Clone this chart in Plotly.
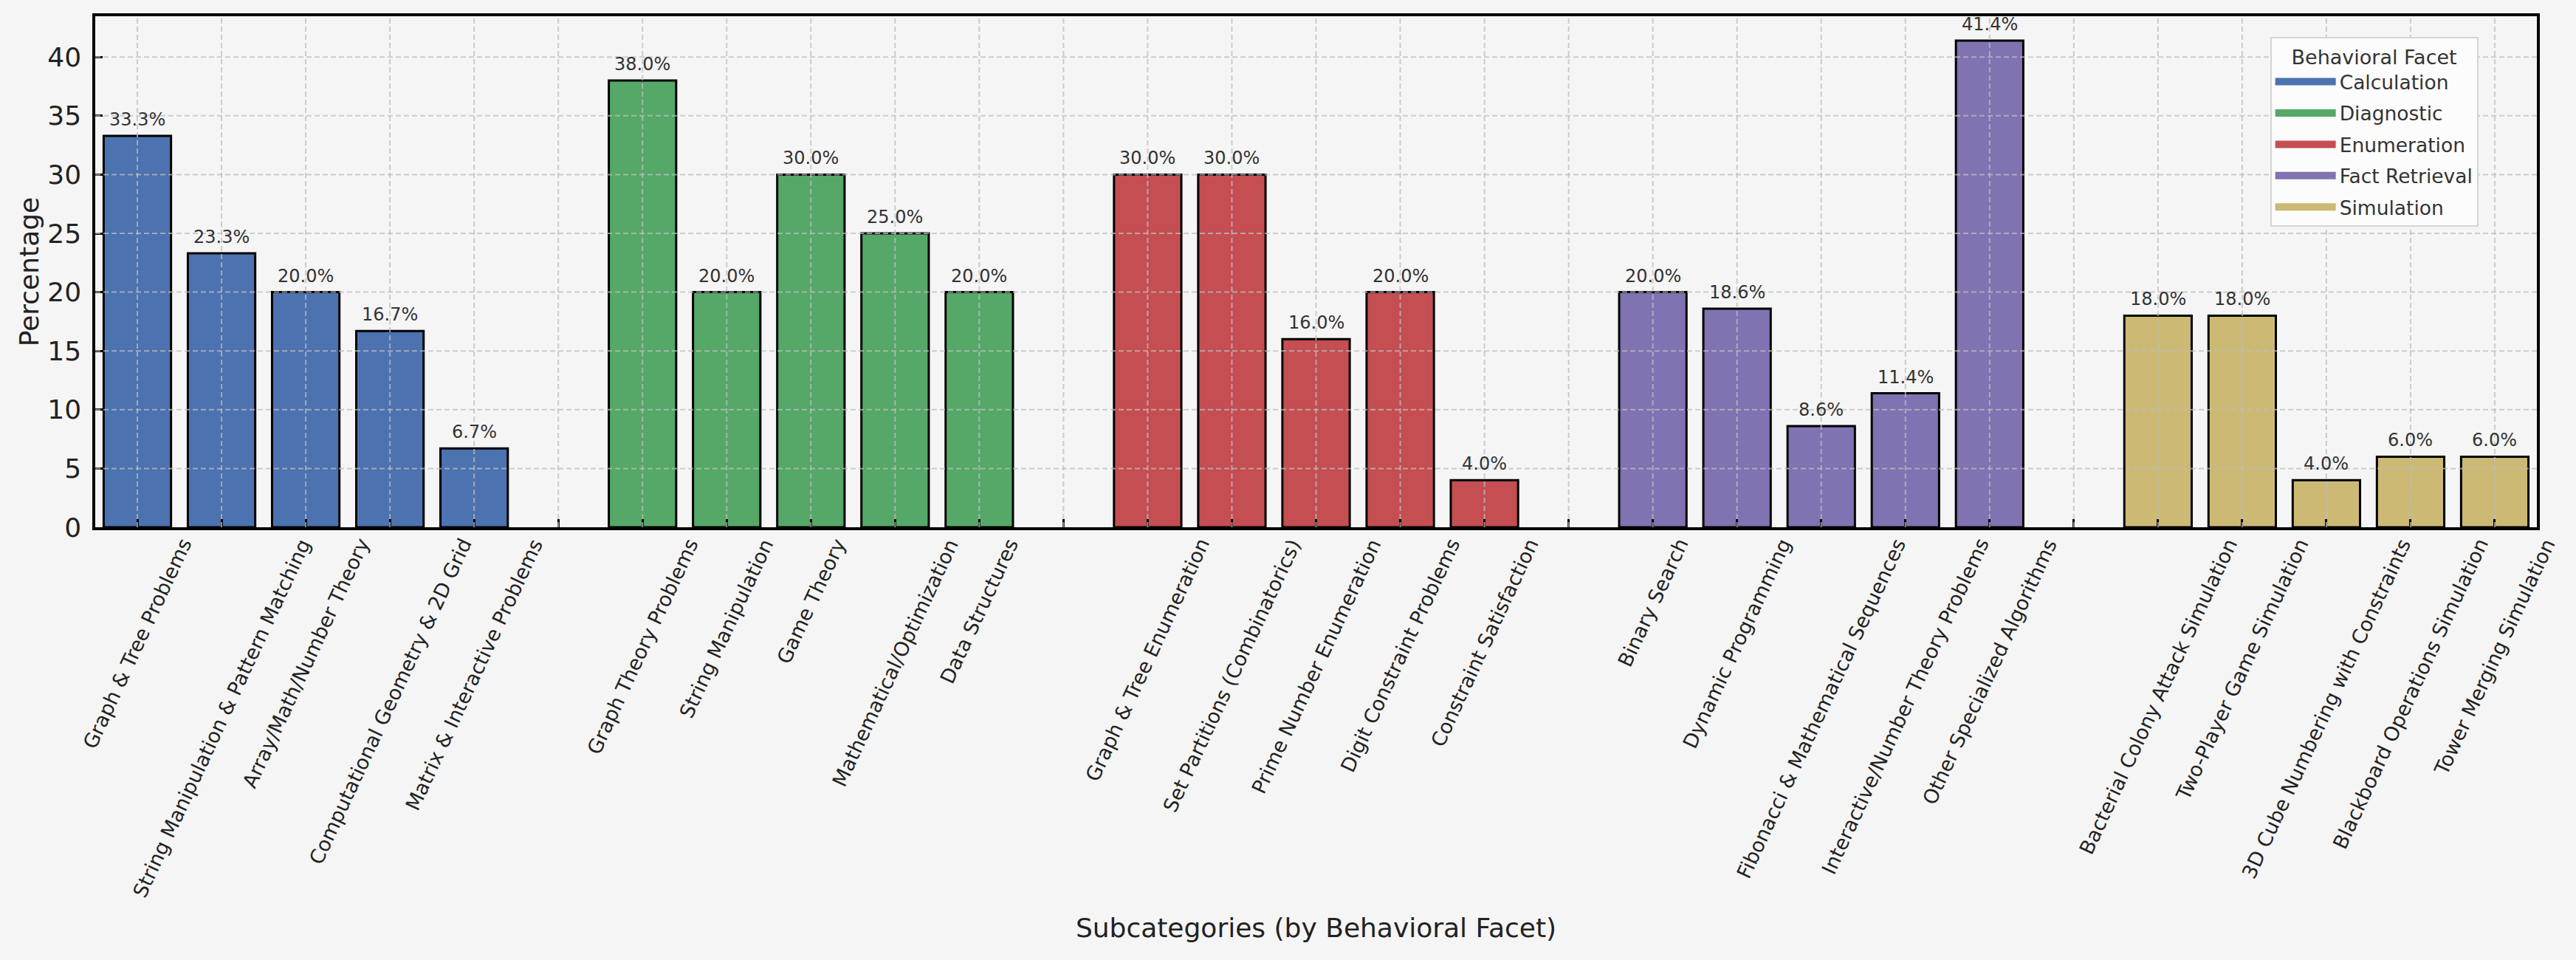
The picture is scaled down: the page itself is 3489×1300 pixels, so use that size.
import plotly.graph_objects as go

# ---- data ----
facets = ["Calculation", "Diagnostic", "Enumeration", "Fact Retrieval", "Simulation"]
colors = ["#4C72B0", "#55A868", "#C44E52", "#8172B2", "#CCB974"]

calc_labels = ["Graph & Tree Problems", "String Manipulation & Pattern Matching",
               "Array/Math/Number Theory", "Computational Geometry & 2D Grid",
               "Matrix & Interactive Problems"]
calc_values = [33.3, 23.3, 20.0, 16.7, 6.7]

diag_labels = ["Graph Theory Problems", "String Manipulation", "Game Theory",
               "Mathematical/Optimization", "Data Structures"]
diag_values = [38.0, 20.0, 30.0, 25.0, 20.0]

enum_labels = ["Graph & Tree Enumeration", "Set Partitions (Combinatorics)",
               "Prime Number Enumeration", "Digit Constraint Problems",
               "Constraint Satisfaction"]
enum_values = [30.0, 30.0, 16.0, 20.0, 4.0]

fact_labels = ["Binary Search", "Dynamic Programming",
               "Fibonacci & Mathematical Sequences",
               "Interactive/Number Theory Problems", "Other Specialized Algorithms"]
fact_values = [20.0, 18.6, 8.6, 11.4, 41.4]

sim_labels = ["Bacterial Colony Attack Simulation", "Two-Player Game Simulation",
              "3D Cube Numbering with Constraints", "Blackboard Operations Simulation",
              "Tower Merging Simulation"]
sim_values = [18.0, 18.0, 4.0, 6.0, 6.0]

y_ticks = [0, 5, 10, 15, 20, 25, 30, 35, 40]

groups = [calc_labels, diag_labels, enum_labels, fact_labels, sim_labels]
values = [calc_values, diag_values, enum_values, fact_values, sim_values]

# ---- category order with spacer slots between facets ----
order = []
for gi, labs in enumerate(groups):
    order.extend(labs)
    if gi < len(groups) - 1:
        order.append(f"__gap{gi}__")
pos = {c: i for i, c in enumerate(order)}

FONT = "DejaVu Sans"
fig = go.Figure()

for name, col, labs, vals in zip(facets, colors, groups, values):
    fig.add_trace(go.Bar(
        x=labs, y=vals, name=name, width=0.8,
        marker=dict(color=col, line=dict(color="black", width=3)),
        showlegend=False, hoverinfo="x+y"))

# legend-only entries (wide patches without edge)
for name, col in zip(facets, colors):
    fig.add_trace(go.Scatter(
        x=[None], y=[None], mode="lines", name=name, legendgroup=name,
        line=dict(color=col, width=18), showlegend=True))

annotations = []
# value labels
for labs, vals in zip(groups, values):
    for lab, v in zip(labs, vals):
        annotations.append(dict(
            x=pos[lab], y=v, xref="x", yref="y", text=f"{v:.1f}%",
            showarrow=False, yanchor="bottom", xanchor="center", yshift=6,
            font=dict(family=FONT, size=24, color="#333333")))
# rotated category labels (centered like matplotlib)
for labs in groups:
    for lab in labs:
        annotations.append(dict(
            x=pos[lab], y=0, xref="x", yref="paper", text=lab,
            showarrow=False, textangle=-65, xanchor="center", yanchor="top",
            yshift=-8, font=dict(family=FONT, size=27, color="#222222")))

ymax = max(max(v) for v in values) * 1.05

# dashed grid drawn above bars
shapes = []
gridc = "rgba(190,190,190,0.75)"
for c in order:
    shapes.append(dict(type="line", xref="x", yref="paper", x0=pos[c], x1=pos[c],
                       y0=0, y1=1, layer="above",
                       line=dict(color=gridc, width=2, dash="7px,4px")))
for t in y_ticks[1:]:
    shapes.append(dict(type="line", xref="paper", yref="y", x0=0, x1=1,
                       y0=t, y1=t, layer="above",
                       line=dict(color=gridc, width=2, dash="7px,4px")))

fig.update_layout(
    width=3489, height=1300,
    margin=dict(l=129, r=53, t=22, b=586),
    paper_bgcolor="#f5f5f5", plot_bgcolor="#f5f5f5",
    barmode="overlay",
    font=dict(family=FONT, color="#222222"),
    annotations=annotations, shapes=shapes,
    legend=dict(
        x=0.976, y=0.96, xanchor="right", yanchor="top",
        bgcolor="#fcfcfc", bordercolor="#d4d4d4", borderwidth=2,
        font=dict(family=FONT, size=26.5, color="#333333"),
        title=dict(text="Behavioral Facet", side="top center",
                   font=dict(family=FONT, size=27, color="#333333")),
        itemwidth=82, tracegroupgap=5,
    ),
    xaxis=dict(
        type="category", categoryorder="array", categoryarray=order,
        range=[-0.5, len(order) - 0.5],
        showticklabels=False, ticks="inside", ticklen=11, tickwidth=2.5,
        tickcolor="black", showgrid=False, showline=True, linecolor="black",
        linewidth=3.5, mirror=True, zeroline=False,
        title=dict(text="Subcategories (by Behavioral Facet)", standoff=528,
                   font=dict(family=FONT, size=36, color="#222222")),
    ),
    yaxis=dict(
        range=[0, ymax], tickvals=y_ticks, ticks="inside", ticklen=10,
        tickwidth=2.5, tickcolor="black", showgrid=False, showline=True,
        linecolor="black", linewidth=3.5, mirror=True, zeroline=False,
        ticklabelstandoff=8,
        tickfont=dict(family=FONT, size=36, color="#222222"),
        title=dict(text="Percentage", standoff=2,
                   font=dict(family=FONT, size=36, color="#222222")),
    ),
)

fig.write_html(
    "out.html",
    config={"displayModeBar": False},
    post_script="document.body.style.margin='0px';"
                "document.body.style.backgroundColor='#f5f5f5';",
)
